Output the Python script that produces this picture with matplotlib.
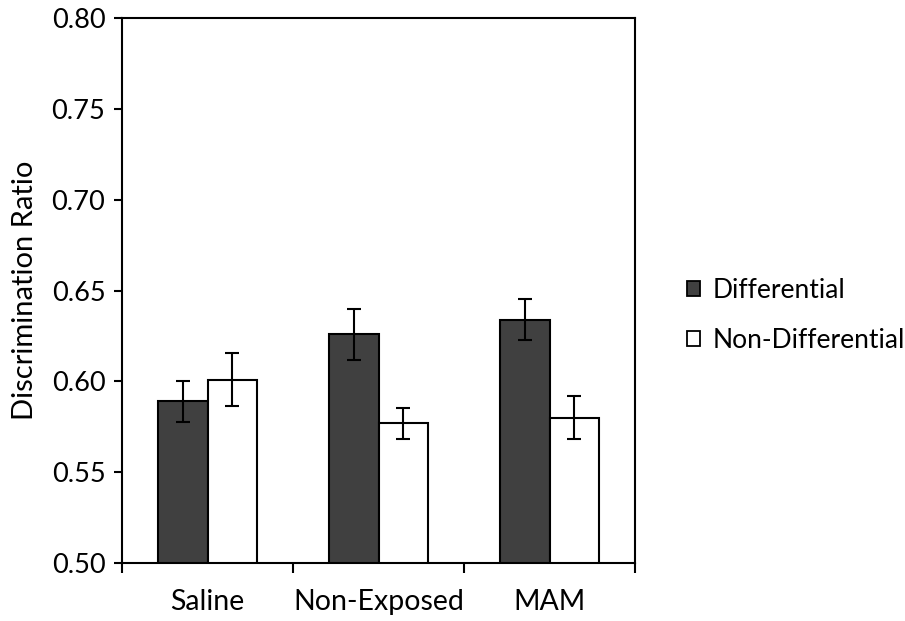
import matplotlib.pyplot as plt
import numpy as np
from matplotlib.patches import Patch

plt.rcParams['font.family'] = ['Lato', 'DejaVu Sans']

groups = ['Saline', 'Non-Exposed', 'MAM']
series = ['Differential', 'Non-Differential']
diff_mean = [0.589, 0.626, 0.634]
diff_err = [0.0113, 0.014, 0.0113]
nondiff_mean = [0.601, 0.577, 0.580]
nondiff_err = [0.0148, 0.0085, 0.0117]
y_ticks = [0.50, 0.55, 0.60, 0.65, 0.70, 0.75, 0.80]

dark = '#404040'

fig = plt.figure(figsize=(9.05, 6.21), dpi=100)
ax = fig.add_axes([0.1348, 0.0934, 0.567, 0.8776])

x = np.arange(len(groups)) + 0.5
w = 0.288
err_kw = dict(ecolor='black', elinewidth=1.5, capsize=5, capthick=1.5)
ax.bar(x - w / 2, diff_mean, w, yerr=diff_err, color=dark, edgecolor='black',
       linewidth=1.5, error_kw=err_kw, label=series[0])
ax.bar(x + w / 2, nondiff_mean, w, yerr=nondiff_err, color='white', edgecolor='black',
       linewidth=1.5, error_kw=err_kw, label=series[1])

ax.set_xlim(0, len(groups))
ax.set_ylim(0.50, 0.80)
ax.set_yticks(y_ticks)
ax.set_yticklabels([f'{v:.2f}' for v in y_ticks])

# category boundaries get the ticks, names sit in between
ax.set_xticks(np.arange(len(groups) + 1))
ax.set_xticklabels([])
ax.set_xticks(x, minor=True)
ax.set_xticklabels(groups, minor=True)
ax.tick_params(axis='x', which='minor', length=0, pad=19, labelsize=20.5)
ax.tick_params(axis='x', which='major', direction='out', length=7, width=1.5)
ax.tick_params(axis='y', direction='out', length=6, width=1.5, labelsize=19.5, pad=6)

for s in ax.spines.values():
    s.set_linewidth(1.5)

ax.set_ylabel('Discrimination Ratio', fontsize=21, labelpad=10)

handles = [Patch(facecolor=dark, edgecolor='black', linewidth=1.3),
           Patch(facecolor='white', edgecolor='black', linewidth=1.3)]
fig.legend(handles, series, loc='center left', bbox_to_anchor=(0.733, 0.492),
           frameon=False, fontsize=19, handlelength=0.5, handleheight=0.5,
           handletextpad=0.45, labelspacing=0.95)

fig.savefig('out.png', dpi=100)
